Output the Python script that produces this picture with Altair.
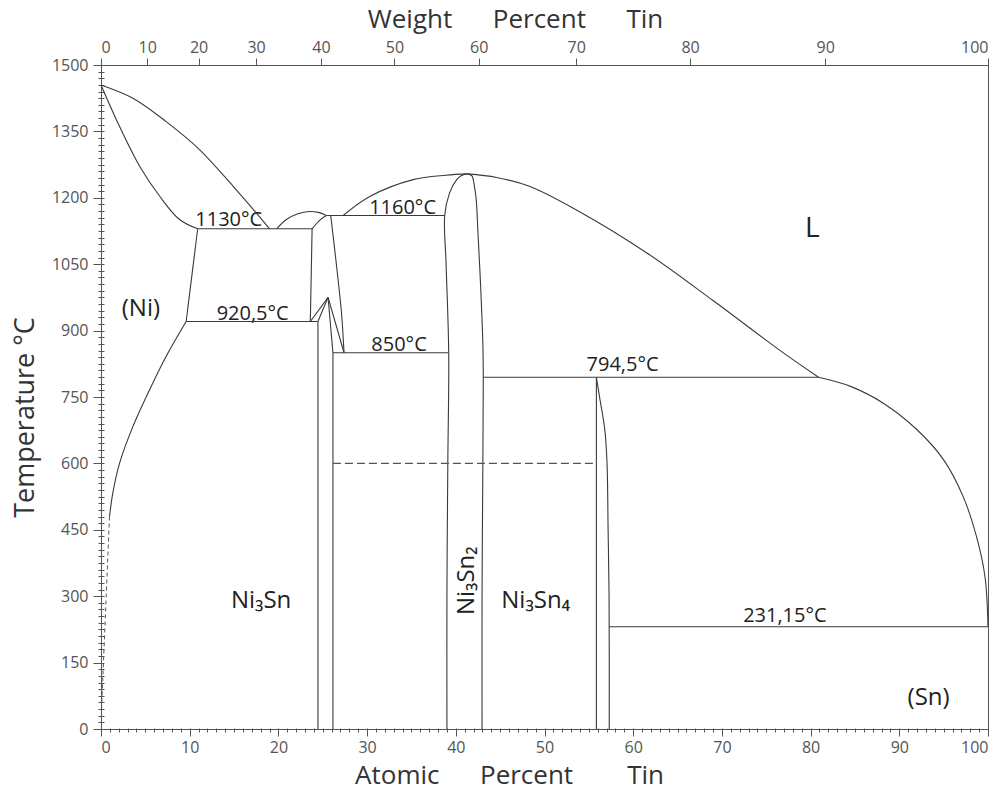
import altair as alt
import pandas as pd

# ---------------- phase boundaries (atomic % Sn, temperature in °C) ----------------
ni_liquidus_at = [0, 3.6, 7.35, 11.1, 14.9, 17.5, 19.0]
ni_liquidus_T = [1455, 1425, 1372, 1309, 1226, 1166, 1130]
ni_solidus_at = [0, 2.07, 4.34, 6.6, 8.85, 10.9]
ni_solidus_T = [1455, 1362, 1272, 1204, 1151, 1130]
ni_solvus_hi_at = [10.9, 9.6]
ni_solvus_hi_T = [1130, 920.5]
ni_solvus_lo_at = [9.6, 7.35, 5.47, 3.59, 2.09, 1.33, 0.96]
ni_solvus_lo_T = [920.5, 842, 766, 683, 600, 533, 480]
ni_solvus_dash_at = [0.96, 0.05]
ni_solvus_dash_T = [480, 40]

iso_1130_at = [10.9, 23.8]
iso_1130_T = [1130, 1130]
iso_1160_at = [25.4, 38.75]
iso_1160_T = [1160, 1160]
iso_920_at = [9.6, 24.46]
iso_920_T = [920.5, 920.5]
iso_850_at = [26.15, 39.2]
iso_850_T = [850, 850]
iso_794_at = [43.1, 80.9]
iso_794_T = [794.5, 794.5]
iso_231_at = [57.3, 100]
iso_231_T = [231.15, 231.15]
dash_600_at = [26.15, 55.85]
dash_600_T = [600, 600]

ht_left_at = [23.8, 23.6]
ht_left_T = [1130, 920.5]
ht_top_at = [23.8, 24.7, 25.4]
ht_top_T = [1130, 1150, 1160]
ht_dome_at = [19.8, 20.9, 22.2, 23.5, 24.5, 25.4]
ht_dome_T = [1130, 1151, 1164, 1169, 1167, 1160]
ht_right_at = [25.9, 26.5, 27.1, 27.4]
ht_right_T = [1160, 1056, 943, 850]
lt_a_at = [23.6, 25.6]
lt_a_T = [920.5, 975]
lt_b_at = [24.46, 25.6]
lt_b_T = [920.5, 975]
lt_c_at = [25.6, 26.15]
lt_c_T = [975, 850]
lt_d_at = [25.6, 27.4]
lt_d_T = [975, 850]
lt_left_at = [24.46, 24.46]
lt_left_T = [920.5, 0]
lt_right_at = [26.15, 26.15]
lt_right_T = [850, 0]

liq_mid_at = [27.3, 30.3, 35.2, 38.9, 41.3]
liq_mid_T = [1160, 1203, 1241, 1251, 1254]
n32_left_at = [41.3, 40.6, 40.1, 39.3, 38.75, 38.9, 39.2, 39.1, 39.0, 39.0]
n32_left_T = [1254, 1250, 1241, 1211, 1160, 1053, 850, 600, 300, 0]
n32_right_at = [41.3, 41.8, 42.1, 42.3, 42.5, 42.8, 43.05, 43.1, 43.05, 42.96, 42.96]
n32_right_T = [1254, 1250, 1226, 1196, 1121, 1000, 870, 794.5, 600, 300, 0]
liq_right_at = [41.3, 44.6, 48.3, 54.0, 61.5, 69.0, 76.5, 80.9]
liq_right_T = [1254, 1246, 1226, 1168, 1076, 968, 856, 794.5]

n34_left_at = [55.85, 55.85]
n34_left_T = [794.5, 0]
n34_right_at = [55.85, 56.2, 56.8, 57.05, 57.17, 57.28, 57.3]
n34_right_T = [794.5, 751, 676, 601, 450, 300, 0]

sn_liquidus_at = [80.9, 84.5, 88.2, 92.0, 95.0, 97.2, 98.7, 99.66, 100]
sn_liquidus_T = [794.5, 774, 736, 676, 608, 525, 435, 344, 231.15]

# ---------------- annotations ----------------
temp_labels = ["1130°C", "920,5°C", "850°C", "1160°C", "794,5°C", "231,15°C"]
temp_at = [14.4, 17.1, 33.6, 34.0, 58.8, 77.1]
temp_T = [1136, 923, 854, 1164, 808, 241]

phase_labels = ["(Ni)", "(Sn)", "Ni₃Sn", "Ni₃Sn₄"]
phase_at = [4.5, 93.3, 18.05, 49.0]
phase_T = [932, 54, 274, 274]

liquid_label = ["L"]
liquid_at = [80.2]
liquid_T = [1112]

rot_label = ["Ni₃Sn₂"]
rot_at = [42.0]
rot_T = [335]

# top axis: weight percent tick values
wt_ticks = [0, 10, 20, 30, 40, 50, 60, 70, 80, 90, 100]
AW_SN = 118.71
AW_NI = 58.69
wt_tick_at = [(w / AW_SN) / ((w / AW_SN) + ((100 - w) / AW_NI)) * 100 for w in wt_ticks]

solid_segments = {
    "ni_liquidus": (ni_liquidus_at, ni_liquidus_T),
    "ni_solidus": (ni_solidus_at, ni_solidus_T),
    "ni_solvus_hi": (ni_solvus_hi_at, ni_solvus_hi_T),
    "ni_solvus_lo": (ni_solvus_lo_at, ni_solvus_lo_T),
    "iso_1130": (iso_1130_at, iso_1130_T),
    "iso_1160": (iso_1160_at, iso_1160_T),
    "iso_920": (iso_920_at, iso_920_T),
    "iso_850": (iso_850_at, iso_850_T),
    "iso_794": (iso_794_at, iso_794_T),
    "iso_231": (iso_231_at, iso_231_T),
    "ht_left": (ht_left_at, ht_left_T),
    "ht_top": (ht_top_at, ht_top_T),
    "ht_dome": (ht_dome_at, ht_dome_T),
    "ht_right": (ht_right_at, ht_right_T),
    "lt_a": (lt_a_at, lt_a_T),
    "lt_b": (lt_b_at, lt_b_T),
    "lt_c": (lt_c_at, lt_c_T),
    "lt_d": (lt_d_at, lt_d_T),
    "lt_left": (lt_left_at, lt_left_T),
    "lt_right": (lt_right_at, lt_right_T),
    "liq_mid": (liq_mid_at, liq_mid_T),
    "n32_left": (n32_left_at, n32_left_T),
    "n32_right": (n32_right_at, n32_right_T),
    "liq_right": (liq_right_at, liq_right_T),
    "n34_left": (n34_left_at, n34_left_T),
    "n34_right": (n34_right_at, n34_right_T),
    "sn_liquidus": (sn_liquidus_at, sn_liquidus_T),
}


def seg_frame(segs):
    rows = []
    for name, (xa, ya) in segs.items():
        for i, (a, t) in enumerate(zip(xa, ya)):
            rows.append({"seg": name, "i": i, "at": a, "T": t})
    return pd.DataFrame(rows)


solid_df = seg_frame(solid_segments)
dash600_df = seg_frame({"dash_600": (dash_600_at, dash_600_T)})
dashni_df = seg_frame({"ni_dash": (ni_solvus_dash_at, ni_solvus_dash_T)})
temp_df = pd.DataFrame({"label": temp_labels, "at": temp_at, "T": temp_T})
phase_df = pd.DataFrame({"label": phase_labels, "at": phase_at, "T": phase_T})
liq_df = pd.DataFrame({"label": liquid_label, "at": liquid_at, "T": liquid_T})
rot_df = pd.DataFrame({"label": rot_label, "at": rot_at, "T": rot_T})

FONT = "Open Sans"
LINE = "#3a3a3a"
NB = "\u00a0"

xs = alt.Scale(domain=[0, 100], nice=False, zero=False)
ys = alt.Scale(domain=[0, 1500], nice=False, zero=False)

ax_bottom = alt.Axis(
    orient="bottom", values=list(range(0, 101, 10)), tickSize=7, labelPadding=3,
    format="d",
    title="Atomic" + NB * 6 + "Percent" + NB * 8 + "Tin",
    titleX=408, titleY=54, titleBaseline="alphabetic", titleAlign="center",
    titleFontSize=26, grid=False,
)
ax_left = alt.Axis(
    orient="left", values=list(range(0, 1501, 150)), tickSize=8, labelPadding=5,
    format="d",
    title="Temperature °C", titleAngle=270, titleX=-68, titleY=352,
    titleBaseline="alphabetic", titleAlign="center", titleFontSize=27, grid=False,
)
ax_top = alt.Axis(
    orient="top", values=wt_tick_at, tickSize=7, labelPadding=3,
    labelExpr="format(100*datum.value*118.71/(datum.value*118.71+(100-datum.value)*58.69), '.0f')",
    title="Weight" + NB * 6 + "Percent" + NB * 6 + "Tin",
    titleX=414, titleY=-38, titleBaseline="alphabetic", titleAlign="center",
    titleFontSize=26, grid=False,
)
ax_left_minor = alt.Axis(
    orient="left", values=list(range(0, 1501, 15)), tickSize=6, offset=-3,
    labels=False, domain=False, grid=False, title=None,
)
ax_bottom_minor = alt.Axis(
    orient="bottom", values=list(range(0, 101, 1)), tickSize=4, offset=-1,
    labels=False, domain=False, grid=False, title=None,
)

solid = alt.Chart(solid_df).mark_line(
    color=LINE, strokeWidth=1.1, interpolate="catmull-rom"
).encode(
    x=alt.X("at:Q", scale=xs, axis=ax_bottom),
    y=alt.Y("T:Q", scale=ys, axis=ax_left),
    detail="seg:N",
    order="i:Q",
)

dash600 = alt.Chart(dash600_df).mark_line(
    color="#555555", strokeWidth=1.1, strokeDash=[8, 4]
).encode(
    x=alt.X("at:Q", scale=xs, axis=ax_top),
    y=alt.Y("T:Q", scale=ys, axis=ax_left_minor),
    detail="seg:N",
    order="i:Q",
)

dashni = alt.Chart(dashni_df).mark_line(
    color="#555555", strokeWidth=1, strokeDash=[4, 3]
).encode(
    x=alt.X("at:Q", scale=xs, axis=ax_bottom_minor),
    y=alt.Y("T:Q", scale=ys, axis=None),
    detail="seg:N",
    order="i:Q",
)

temps = alt.Chart(temp_df).mark_text(
    font=FONT, fontSize=20, color="#222222", align="center", baseline="alphabetic"
).encode(
    x=alt.X("at:Q", scale=xs, axis=None),
    y=alt.Y("T:Q", scale=ys, axis=None),
    text="label:N",
)

phases = alt.Chart(phase_df).mark_text(
    font=FONT, fontSize=24, color="#222222", align="center", baseline="alphabetic"
).encode(
    x=alt.X("at:Q", scale=xs, axis=None),
    y=alt.Y("T:Q", scale=ys, axis=None),
    text="label:N",
)

liquid = alt.Chart(liq_df).mark_text(
    font=FONT, fontSize=28, color="#222222", align="center", baseline="alphabetic"
).encode(
    x=alt.X("at:Q", scale=xs, axis=None),
    y=alt.Y("T:Q", scale=ys, axis=None),
    text="label:N",
)

rotated = alt.Chart(rot_df).mark_text(
    font=FONT, fontSize=24, color="#222222", align="center", baseline="alphabetic", angle=270
).encode(
    x=alt.X("at:Q", scale=xs, axis=None),
    y=alt.Y("T:Q", scale=ys, axis=None),
    text="label:N",
)

chart = (
    alt.layer(solid, dash600, dashni, temps, phases, liquid, rotated)
    .resolve_axis(x="independent", y="independent")
    .properties(
        width=887,
        height=664,
        padding={"left": 101, "top": 65, "right": 19, "bottom": 62},
        autosize=alt.AutoSizeParams(type="none"),
        background="white",
    )
    .configure_view(stroke="#555555", strokeWidth=1)
    .configure_axis(
        labelFont=FONT, labelFontSize=16, labelColor="#555555",
        titleFont=FONT, titleColor="#333333", titleFontWeight="normal",
        domainColor="#555555", tickColor="#555555", domainWidth=1, tickWidth=1,
    )
)

chart.save("out.html", embed_options={"renderer": "svg", "actions": False})
